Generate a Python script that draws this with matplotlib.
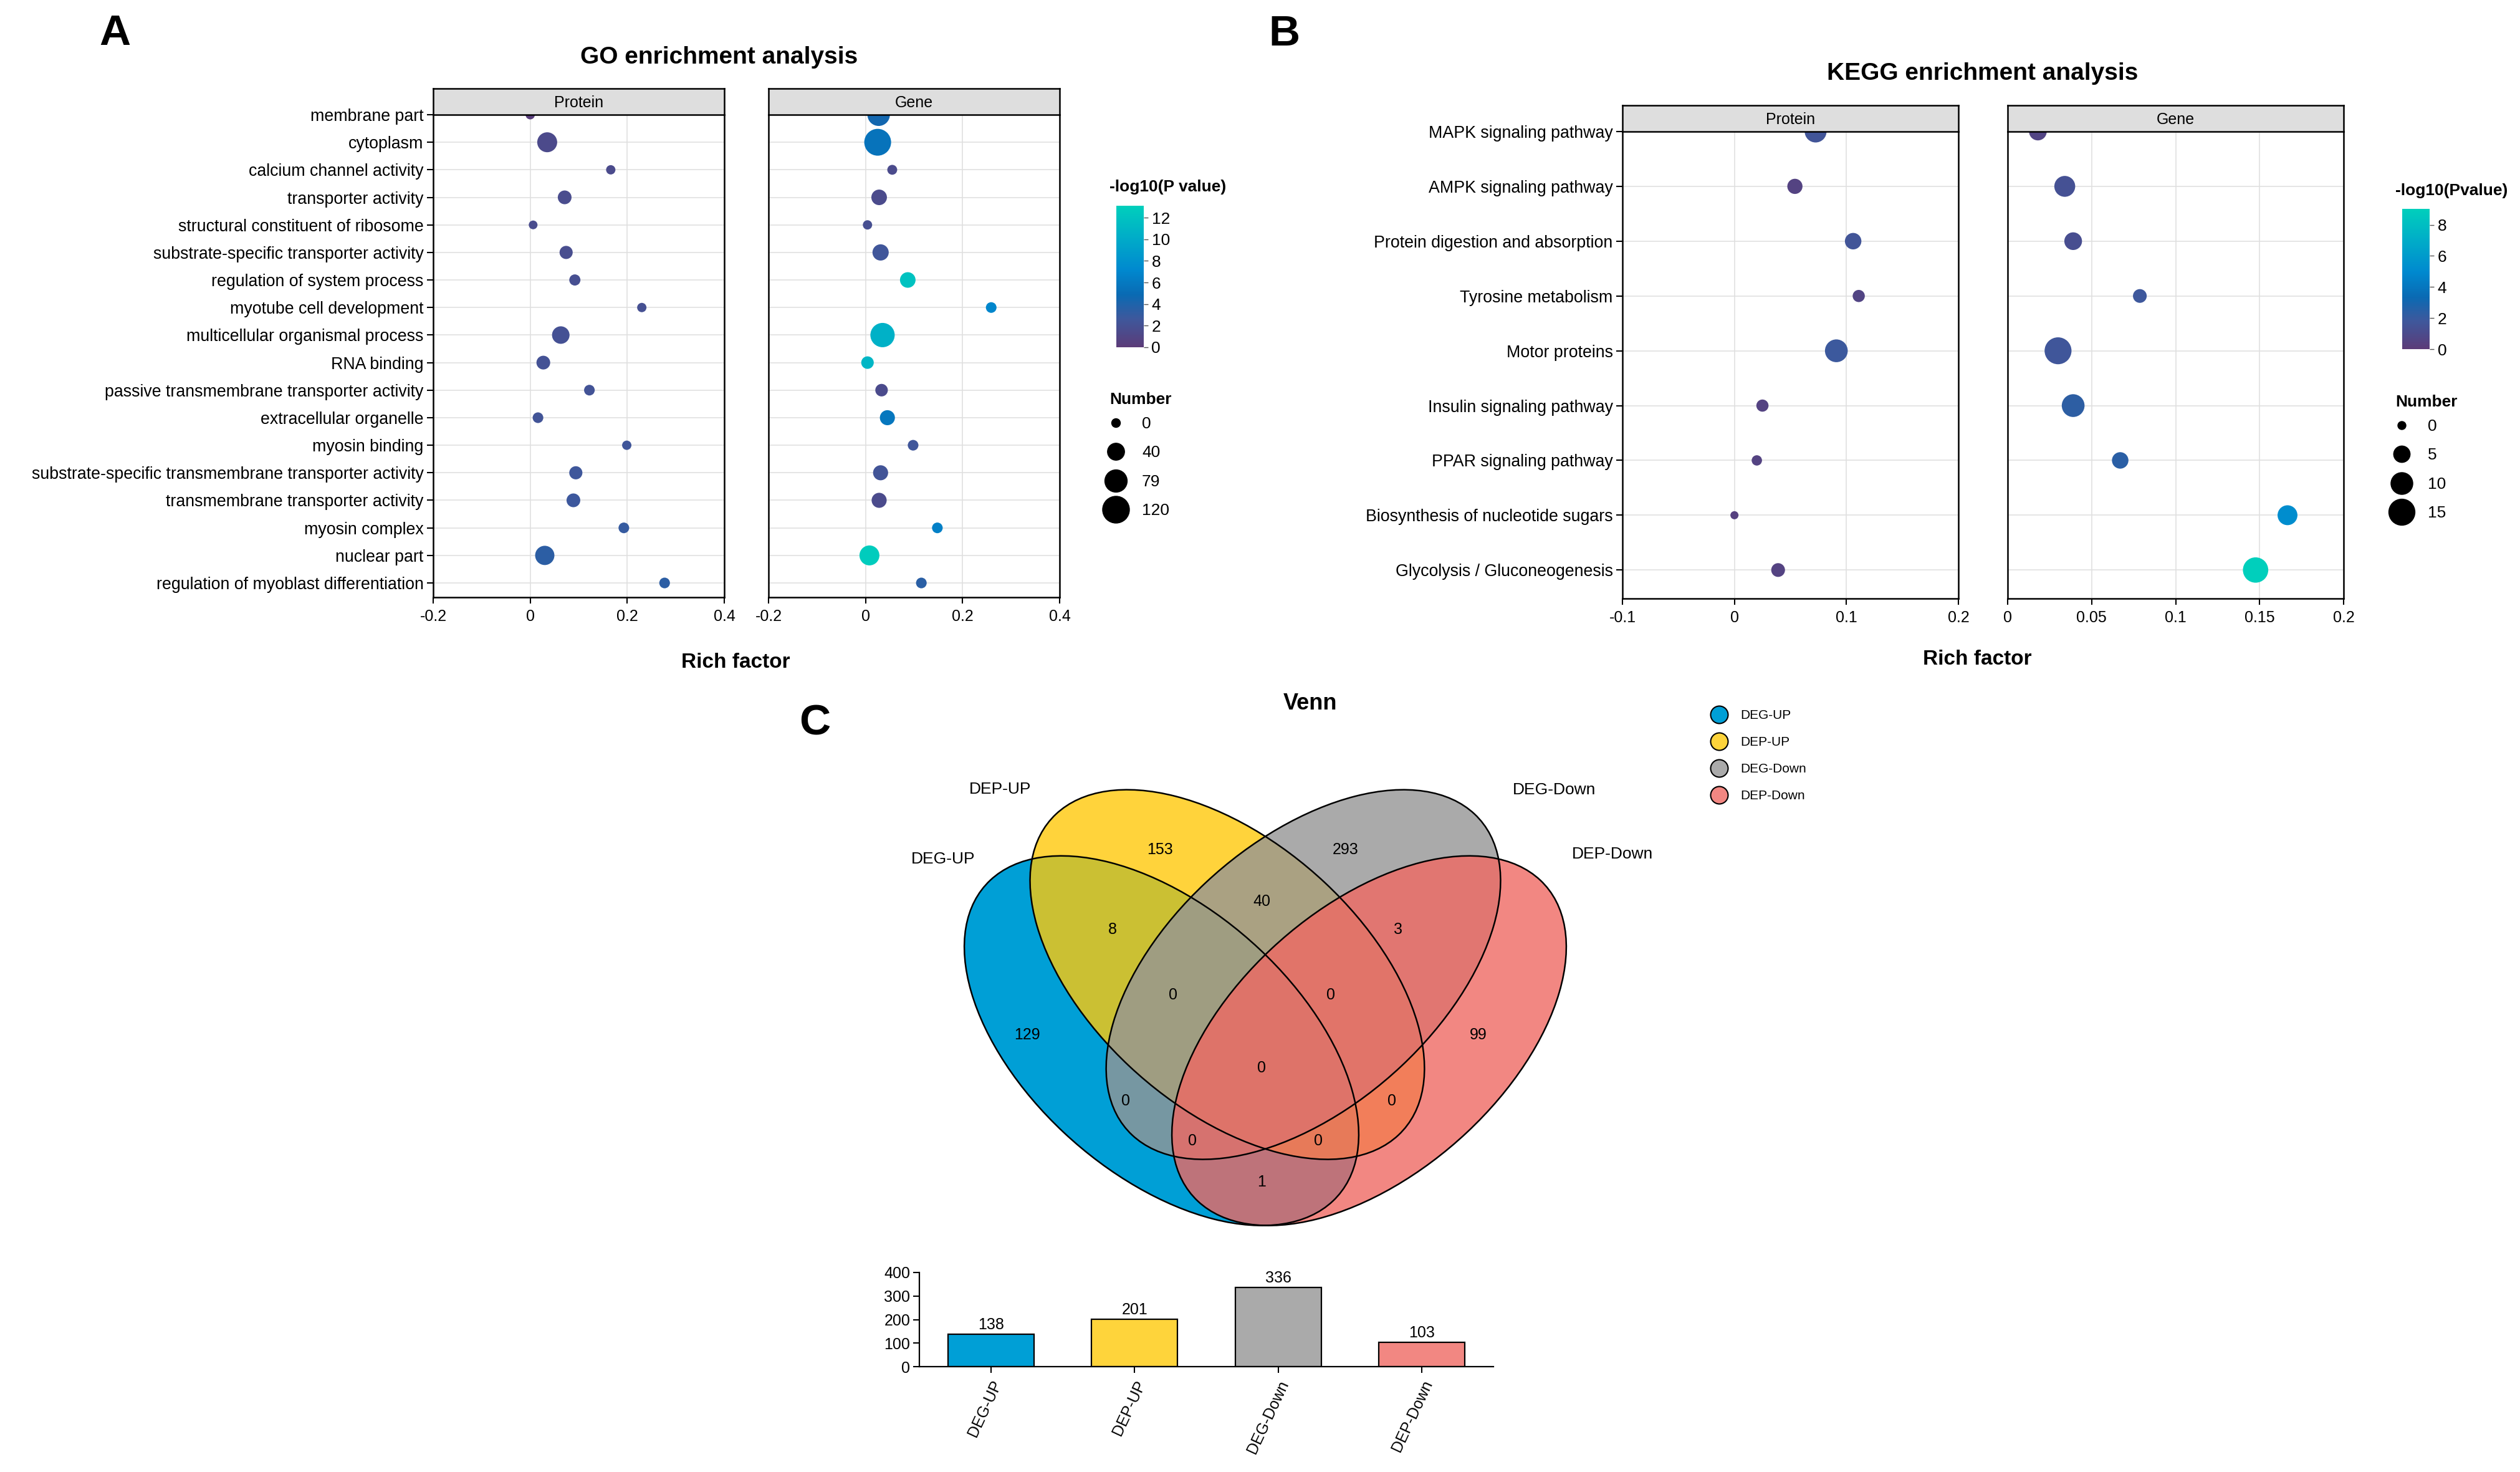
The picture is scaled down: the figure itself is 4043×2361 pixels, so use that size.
import numpy as np
import matplotlib
matplotlib.use("Agg")
import matplotlib.pyplot as plt
from matplotlib.cm import ScalarMappable
from matplotlib.colors import LinearSegmentedColormap, Normalize
from matplotlib.lines import Line2D
from matplotlib.patches import Ellipse

plt.rcParams["font.family"] = ["Liberation Sans", "DejaVu Sans"]

W, H = 4043, 2361
DPI = 100

# ---------------- GO enrichment ----------------
GO_TERMS = [
    "membrane part", "cytoplasm", "calcium channel activity", "transporter activity",
    "structural constituent of ribosome", "substrate-specific transporter activity",
    "regulation of system process", "myotube cell development",
    "multicellular organismal process", "RNA binding",
    "passive transmembrane transporter activity", "extracellular organelle",
    "myosin binding", "substrate-specific transmembrane transporter activity",
    "transmembrane transporter activity", "myosin complex", "nuclear part",
    "regulation of myoblast differentiation",
]
GO_PROTEIN_RICH = [0.0, 0.035, 0.166, 0.071, 0.006, 0.074, 0.092, 0.230, 0.063, 0.027,
                   0.122, 0.016, 0.199, 0.094, 0.089, 0.193, 0.030, 0.277]
GO_PROTEIN_LOGP = [0.3, 1.4, 1.5, 1.6, 1.6, 1.7, 1.8, 1.9, 2.0, 2.1,
                   2.2, 2.3, 2.5, 2.6, 2.7, 3.0, 3.4, 3.4]
GO_PROTEIN_NUM = [2, 60, 2, 21, 0, 18, 9, 2, 43, 21, 7, 7, 2, 18, 21, 7, 55, 7]

GO_GENE_RICH = [0.027, 0.025, 0.055, 0.028, 0.004, 0.031, 0.087, 0.259, 0.035, 0.004,
                0.033, 0.045, 0.098, 0.031, 0.028, 0.148, 0.008, 0.115]
GO_GENE_LOGP = [4.5, 5.5, 1.5, 1.5, 1.8, 2.5, 12.0, 7.0, 10.5, 11.0,
                1.5, 5.8, 2.5, 2.3, 1.5, 6.5, 12.8, 3.5]
GO_GENE_NUM = [80, 120, 4, 31, 2, 35, 31, 7, 96, 15, 15, 28, 7, 28, 28, 7, 60, 7]

GO_SIZE_BREAKS = [0, 40, 79, 120]

# ---------------- KEGG enrichment ----------------
KEGG_TERMS = [
    "MAPK signaling pathway", "AMPK signaling pathway", "Protein digestion and absorption",
    "Tyrosine metabolism", "Motor proteins", "Insulin signaling pathway",
    "PPAR signaling pathway", "Biosynthesis of nucleotide sugars",
    "Glycolysis / Gluconeogenesis",
]
KEGG_PROTEIN_RICH = [0.0725, 0.054, 0.106, 0.111, 0.091, 0.025, 0.020, 0.0, 0.039]
KEGG_PROTEIN_LOGP = [1.6, 0.5, 1.6, 0.6, 1.9, 0.5, 0.5, 0.4, 0.5]
KEGG_PROTEIN_NUM = [10, 4, 5, 2, 11, 2, 1, 0, 3]

KEGG_GENE_RICH = [0.018, 0.034, 0.039, 0.0787, 0.030, 0.039, 0.067, 0.1666, 0.1476]
KEGG_GENE_LOGP = [0.6, 1.4, 1.2, 1.8, 1.7, 2.3, 2.4, 5.2, 9.0]
KEGG_GENE_NUM = [6, 9, 6, 3, 16, 11, 5, 8, 14]

KEGG_SIZE_BREAKS = [0, 5, 10, 15]

# ---------------- Venn ----------------
SET_NAMES = ["DEG-UP", "DEP-UP", "DEG-Down", "DEP-Down"]
SET_COLORS = ["#009FD6", "#FED43B", "#AAAAAA", "#F28782"]
# region membership (A=DEG-UP, B=DEP-UP, C=DEG-Down, D=DEP-Down) -> count
REGION_COUNTS = {
    "B": 153, "C": 293, "AB": 8, "BC": 40, "CD": 3, "ABC": 0, "BCD": 0,
    "A": 129, "ABCD": 0, "D": 99, "AC": 0, "BD": 0, "ACD": 0, "ABD": 0, "AD": 1,
}
SET_TOTALS = [138, 201, 336, 103]

# ---------------- layout helpers ----------------
CMAP = LinearSegmentedColormap.from_list(
    "enrich",
    [(0.0, "#5C3B78"), (0.2, "#3E589C"), (0.37, "#0A6AB3"),
     (0.55, "#0089CF"), (0.78, "#00ADC8"), (1.0, "#00CFBC")],
)
PT = 72 / DPI  # points per pixel


def box(x0, y0, x1, y1):
    return [x0 / W, 1 - y1 / H, (x1 - x0) / W, (y1 - y0) / H]


def go_diam(n):
    return np.sqrt(196 + 13.8 * np.asarray(n, dtype=float))


def kegg_diam(n):
    return np.sqrt(169 + 106 * np.asarray(n, dtype=float))


fig = plt.figure(figsize=(W / DPI, H / DPI), dpi=DPI)


def dot_panel(x0, y0, x1, y1, strip_h, strip_label, terms, rich, logp, num,
              xlim, xticks, diam_fn, norm, show_y, label_size):
    ax = fig.add_axes(box(x0, y0, x1, y1))
    ypos = np.arange(len(terms))
    ax.scatter(rich, ypos, s=(diam_fn(num) * PT) ** 2, c=logp, cmap=CMAP, norm=norm,
               linewidths=0, zorder=3)
    ax.set_xlim(*xlim)
    ax.set_ylim(len(terms) - 1 + 0.52, 0)
    ax.set_xticks(xticks)
    ax.set_xticklabels([f"{v:g}" for v in xticks], fontsize=18)
    ax.set_yticks(ypos)
    if show_y:
        ax.set_yticklabels(terms, fontsize=label_size)
        ax.tick_params(axis="y", length=7, width=1.5, pad=4)
    else:
        ax.set_yticklabels([])
        ax.tick_params(axis="y", length=0)
    ax.tick_params(axis="x", length=7, width=1.5, pad=7)
    ax.grid(True, color="#E0E0E0", linewidth=1.2)
    ax.set_axisbelow(True)
    for sp in ax.spines.values():
        sp.set_linewidth(1.8)
    ax.spines["top"].set_visible(False)

    st = fig.add_axes(box(x0, y0 - strip_h, x1, y0))
    st.set_facecolor("#DEDEDE")
    st.set_xticks([])
    st.set_yticks([])
    for sp in st.spines.values():
        sp.set_linewidth(1.8)
    st.text(0.5, 0.45, strip_label, ha="center", va="center", fontsize=18,
            transform=st.transAxes)
    return ax


def size_legend(x_left, y_top, breaks, diam_fn, title_x, title_y):
    handles = [Line2D([], [], marker="o", linestyle="none", color="black",
                      markersize=float(diam_fn(b)) * PT) for b in breaks]
    fig.legend(handles, [str(b) for b in breaks], loc="upper left",
               bbox_to_anchor=(x_left / W, 1 - y_top / H), frameon=False,
               fontsize=19, handlelength=1.2, handletextpad=1.0, labelspacing=0.85,
               borderpad=0, borderaxespad=0, numpoints=1)
    fig.text(title_x / W, 1 - title_y / H, "Number", fontsize=19, weight="bold",
             ha="left", va="center")


def color_legend(x0, y0, x1, y1, norm, ticks, title, title_x, title_y):
    cax = fig.add_axes(box(x0, y0, x1, y1))
    cb = fig.colorbar(ScalarMappable(norm=norm, cmap=CMAP), cax=cax, ticks=ticks)
    cb.outline.set_visible(False)
    cax.tick_params(labelsize=19, length=5, width=1, color="#555555", pad=4)
    fig.text(title_x / W, 1 - title_y / H, title, fontsize=19, weight="bold",
             ha="left", va="center")


# ---------------- A: GO ----------------
go_norm = Normalize(0, 13.1)
go_ticks = [-0.2, 0, 0.2, 0.4]
dot_panel(695, 184, 1162, 958, 42, "Protein", GO_TERMS, GO_PROTEIN_RICH,
          GO_PROTEIN_LOGP, GO_PROTEIN_NUM, (-0.2, 0.4), go_ticks, go_diam, go_norm,
          True, 19.3)
dot_panel(1233, 184, 1700, 958, 42, "Gene", GO_TERMS, GO_GENE_RICH,
          GO_GENE_LOGP, GO_GENE_NUM, (-0.2, 0.4), go_ticks, go_diam, go_norm,
          False, 19.3)
fig.text(1154 / W, 1 - 92 / H, "GO enrichment analysis", fontsize=28, weight="bold",
         ha="center", va="center")
fig.text(1180 / W, 1 - 1063 / H, "Rich factor", fontsize=24, weight="bold",
         ha="center", va="center")
color_legend(1791, 330, 1835, 557, go_norm, range(0, 13, 2), "-log10(P value)",
             1780, 300)
size_legend(1774, 668, GO_SIZE_BREAKS, go_diam, 1780, 641)

# ---------------- B: KEGG ----------------
kegg_norm = Normalize(0, 9.03)
dot_panel(2603, 211, 3142, 960, 42, "Protein", KEGG_TERMS, KEGG_PROTEIN_RICH,
          KEGG_PROTEIN_LOGP, KEGG_PROTEIN_NUM, (-0.1, 0.2), [-0.1, 0, 0.1, 0.2],
          kegg_diam, kegg_norm, True, 19.3)
dot_panel(3221, 211, 3760, 960, 42, "Gene", KEGG_TERMS, KEGG_GENE_RICH,
          KEGG_GENE_LOGP, KEGG_GENE_NUM, (0, 0.2), [0, 0.05, 0.1, 0.15, 0.2],
          kegg_diam, kegg_norm, False, 19.3)
fig.text(3181 / W, 1 - 118 / H, "KEGG enrichment analysis", fontsize=28, weight="bold",
         ha="center", va="center")
fig.text(3172 / W, 1 - 1057 / H, "Rich factor", fontsize=24, weight="bold",
         ha="center", va="center")
color_legend(3854, 335, 3898, 560, kegg_norm, range(0, 9, 2), "-log10(Pvalue)",
             3843, 306)
size_legend(3837, 672, KEGG_SIZE_BREAKS, kegg_diam, 3843, 645)

# ---------------- C: Venn ----------------
vax = fig.add_axes(box(1475, 1118, 2585, 2158))
vax.set_xlim(0, 1)
vax.set_ylim(0, 1)
vax.axis("off")

ELLIPSES = [((0.35, 0.47), -45), ((0.445, 0.572), -45),
            ((0.555, 0.572), 45), ((0.65, 0.47), 45)]
FILL_BASE = ["#009FD6", "#FFC90A", "#959595", "#EF6963"]
FILL_ALPHA = [1.0, 0.8, 0.8, 0.8]
for (c, ang), fc, al in zip(ELLIPSES, FILL_BASE, FILL_ALPHA):
    vax.add_patch(Ellipse(c, 0.70, 0.40, angle=ang, facecolor=fc, alpha=al,
                          edgecolor="none"))
for c, ang in ELLIPSES:
    vax.add_patch(Ellipse(c, 0.70, 0.40, angle=ang, facecolor="none",
                          edgecolor="black", linewidth=1.8))

REGION_POS = {
    "B": (0.348, 0.764), "C": (0.616, 0.764), "AB": (0.279, 0.641),
    "BC": (0.495, 0.685), "CD": (0.692, 0.641), "ABC": (0.367, 0.540),
    "BCD": (0.595, 0.540), "A": (0.156, 0.479), "ABCD": (0.495, 0.428),
    "D": (0.808, 0.479), "AC": (0.298, 0.377), "BD": (0.683, 0.377),
    "ACD": (0.395, 0.315), "ABD": (0.577, 0.315), "AD": (0.495, 0.252),
}
for key, n in REGION_COUNTS.items():
    px, py = REGION_POS[key]
    vax.text(px, py, str(n), ha="center", va="center", fontsize=18)

SET_LABEL_POS = [(0.034, 0.75), (0.117, 0.858), (0.918, 0.857), (1.002, 0.758)]
for name, (px, py) in zip(SET_NAMES, SET_LABEL_POS):
    vax.text(px, py, name, ha="center", va="center", fontsize=19)

fig.text(2102 / W, 1 - 1129 / H, "Venn", fontsize=26, weight="bold",
         ha="center", va="center")

venn_handles = [Line2D([], [], marker="o", linestyle="none", markerfacecolor=col,
                       markeredgecolor="black", markeredgewidth=1.5,
                       markersize=28 * PT) for col in SET_COLORS]
fig.legend(venn_handles, SET_NAMES, loc="upper left",
           bbox_to_anchor=(2743 / W, 1 - 1138 / H), frameon=False, fontsize=15,
           handlelength=1.4, handletextpad=0.95, labelspacing=1.15,
           borderpad=0, borderaxespad=0, numpoints=1)

# ---------------- C: bar chart ----------------
bax = fig.add_axes(box(1475, 2041, 2396, 2192))
xpos = np.arange(len(SET_NAMES))
bars = bax.bar(xpos, SET_TOTALS, width=0.6, color=SET_COLORS, edgecolor="black",
               linewidth=1.6)
bax.bar_label(bars, padding=2, fontsize=18)
bax.set_xlim(-0.5, 3.5)
bax.set_ylim(0, 400)
bax.set_yticks([0, 100, 200, 300, 400])
bax.set_xticks(xpos)
bax.set_xticklabels(SET_NAMES, rotation=65, ha="right", rotation_mode="anchor",
                    fontsize=18)
bax.tick_params(axis="both", labelsize=18, length=7, width=1.5)
bax.tick_params(axis="x", pad=6)
bax.spines["top"].set_visible(False)
bax.spines["right"].set_visible(False)
for sp in ("left", "bottom"):
    bax.spines[sp].set_linewidth(1.6)

# ---------------- panel letters ----------------
for letter, (lx, ly) in zip("ABC", [(184, 54), (2060, 55), (1307, 1160)]):
    fig.text(lx / W, 1 - ly / H, letter, fontsize=50, weight="bold",
             ha="center", va="center")

fig.savefig("out.png", dpi=DPI)
